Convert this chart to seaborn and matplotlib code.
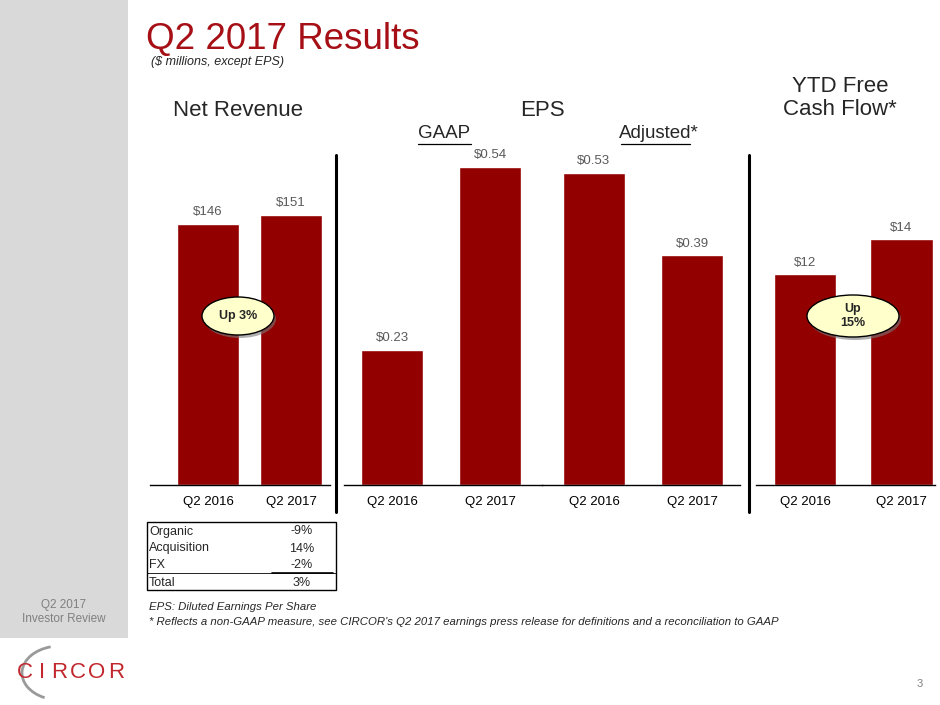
import matplotlib
matplotlib.use("Agg")
import matplotlib.pyplot as plt
import seaborn as sns
import pandas as pd
from matplotlib.patches import Ellipse, Rectangle, Arc

# data
periods = ["Q2 2016", "Q2 2017"]
net_revenue = [146, 151]
eps_gaap = [0.23, 0.54]
eps_adjusted = [0.53, 0.39]
fcf_ytd = [12, 14]

bridge_labels = ["Organic", "Acquisition", "FX", "Total"]
bridge_values = ["-9%", "14%", "-2%", "3%"]

BAR_RED = "#920000"
TITLE_RED = "#A50F15"
LABEL_GRAY = "#595959"

sns.set_style("white")
plt.rcParams['font.family'] = ['Liberation Sans', 'DejaVu Sans']

W, H = 940, 705
fig = plt.figure(figsize=(9.4, 7.05), dpi=100)


def fx(x):
    return x / W


def fy(y):
    return 1 - y / H


def panel(x0, x1, y_top, y_base, values, fmt, width, xlim, ymax):
    ax = fig.add_axes([fx(x0), fy(y_base), fx(x1 - x0), (y_base - y_top) / H])
    df = pd.DataFrame({"period": periods, "value": values})
    sns.barplot(data=df, x="period", y="value", color=BAR_RED, saturation=1,
                width=width, ax=ax)
    ax.set_xlim(*xlim)
    ax.set_ylim(0, ymax)
    ax.bar_label(ax.containers[0], labels=[fmt.format(v) for v in values],
                 padding=4, color=LABEL_GRAY, fontsize=9.5)
    ax.set_xlabel("")
    ax.set_ylabel("")
    ax.set_yticks([])
    ax.tick_params(axis="x", length=0, pad=8, labelsize=9.5, colors="black")
    for s in ["top", "left", "right"]:
        ax.spines[s].set_visible(False)
    ax.spines["bottom"].set_color("black")
    ax.spines["bottom"].set_linewidth(1.0)
    ax.patch.set_alpha(0)
    return ax


base = 485
panel(150, 330, 140, base, net_revenue, "${:.0f}", 0.75, (-0.70, 1.47), (base - 140) / 1.788)
panel(344, 542, 140, base, eps_gaap, "${:.2f}", 0.63, (-0.49, 1.53), (base - 140) / 589)
panel(542, 740, 140, base, eps_adjusted, "${:.2f}", 0.63, (-0.53, 1.49), (base - 140) / 589)
panel(756, 935, 140, base, fcf_ytd, "${:.0f}", 0.65, (-0.51, 1.35), (base - 140) / 17.55)

# left sidebar
fig.add_artist(Rectangle((0, fy(638)), fx(128), 1 - fy(638), transform=fig.transFigure,
                         facecolor="#d9d9d9", edgecolor="none", zorder=0))
fig.text(fx(64), fy(612), "Q2 2017\nInvestor Review", ha="center", va="center",
         color="#808080", fontsize=8.5, linespacing=1.3)

# logo
fig.add_artist(Arc((fx(60), fy(673)), fx(76), 54 / H, theta1=105, theta2=245,
                   transform=fig.transFigure, color="#9a9a9a", lw=2.0))
for ch, cx in zip("CIRCOR", [25, 42, 59, 78, 97, 116]):
    fig.text(fx(cx), fy(672), ch, ha="center", va="center", color="#C1272D", fontsize=16)

# title
fig.text(fx(146), fy(39), "Q2 2017 Results", ha="left", va="center",
         color=TITLE_RED, fontsize=26.5)
fig.text(fx(151), fy(62), "($ millions, except EPS)", ha="left", va="center",
         fontsize=9, style="italic")

# section headers
fig.text(fx(238), fy(111), "Net Revenue", ha="center", va="center", fontsize=16)
fig.text(fx(542), fy(111), "EPS", ha="center", va="center", fontsize=16)
fig.text(fx(840), fy(98), "YTD Free\nCash Flow*", ha="center", va="center",
         fontsize=16, linespacing=1.1)
fig.text(fx(444), fy(134), "GAAP", ha="center", va="center", fontsize=13.5)
fig.text(fx(659), fy(134), "Adjusted*", ha="center", va="center", fontsize=13.5)
fig.add_artist(plt.Line2D([fx(418), fx(471)], [fy(144), fy(144)], color="black", lw=0.9))
fig.add_artist(plt.Line2D([fx(621), fx(690)], [fy(144), fy(144)], color="black", lw=0.9))

# separators
for xs in [336, 749]:
    fig.add_artist(plt.Line2D([fx(xs), fx(xs)], [fy(155), fy(512)], color="black", lw=2.2))


# growth badges
def badge(cx, cy, w, h, text):
    fig.add_artist(Ellipse((fx(cx + 2), fy(cy + 3)), fx(w), h / H, transform=fig.transFigure,
                           facecolor="#7a7a7a", edgecolor="none", alpha=0.6, zorder=5))
    fig.add_artist(Ellipse((fx(cx), fy(cy)), fx(w), h / H, transform=fig.transFigure,
                           facecolor="#FFFFCC", edgecolor="black", lw=1.0, zorder=6))
    fig.text(fx(cx), fy(cy), text, ha="center", va="center", fontsize=9,
             fontweight="bold", zorder=7, linespacing=1.3)


badge(238, 316, 72, 38, "Up 3%")
badge(853, 316, 92, 42, "Up\n15%")

# revenue bridge table
tx0, tx1, ty0, ty1 = 147, 336, 522, 590
fig.add_artist(Rectangle((fx(tx0), fy(ty1)), fx(tx1 - tx0), (ty1 - ty0) / H,
                         transform=fig.transFigure, facecolor="none", edgecolor="black", lw=1.0))
row_h = (ty1 - ty0) / len(bridge_labels)
for i, (lab, val) in enumerate(zip(bridge_labels, bridge_values)):
    yc = ty0 + row_h * (i + 0.5) + 1
    fig.text(fx(tx0 + 2), fy(yc), lab, ha="left", va="center", fontsize=9)
    fig.text(fx(302), fy(yc), val, ha="center", va="center", fontsize=9)
ysep = ty0 + row_h * 3
fig.add_artist(plt.Line2D([fx(tx0), fx(tx1)], [fy(ysep), fy(ysep)], color="black", lw=0.6))
fig.add_artist(plt.Line2D([fx(272), fx(333)], [fy(ysep), fy(ysep)], color="black", lw=1.2))

# footnotes
fig.text(fx(149), fy(607), "EPS: Diluted Earnings Per Share", ha="left", va="center",
         fontsize=8.2, style="italic")
fig.text(fx(149), fy(622),
         "* Reflects a non-GAAP measure, see CIRCOR's Q2 2017 earnings press release "
         "for definitions and a reconciliation to GAAP",
         ha="left", va="center", fontsize=8.2, style="italic")

fig.text(fx(920), fy(684), "3", ha="center", va="center", fontsize=8, color="#808080")

fig.savefig("out.png", dpi=100)
